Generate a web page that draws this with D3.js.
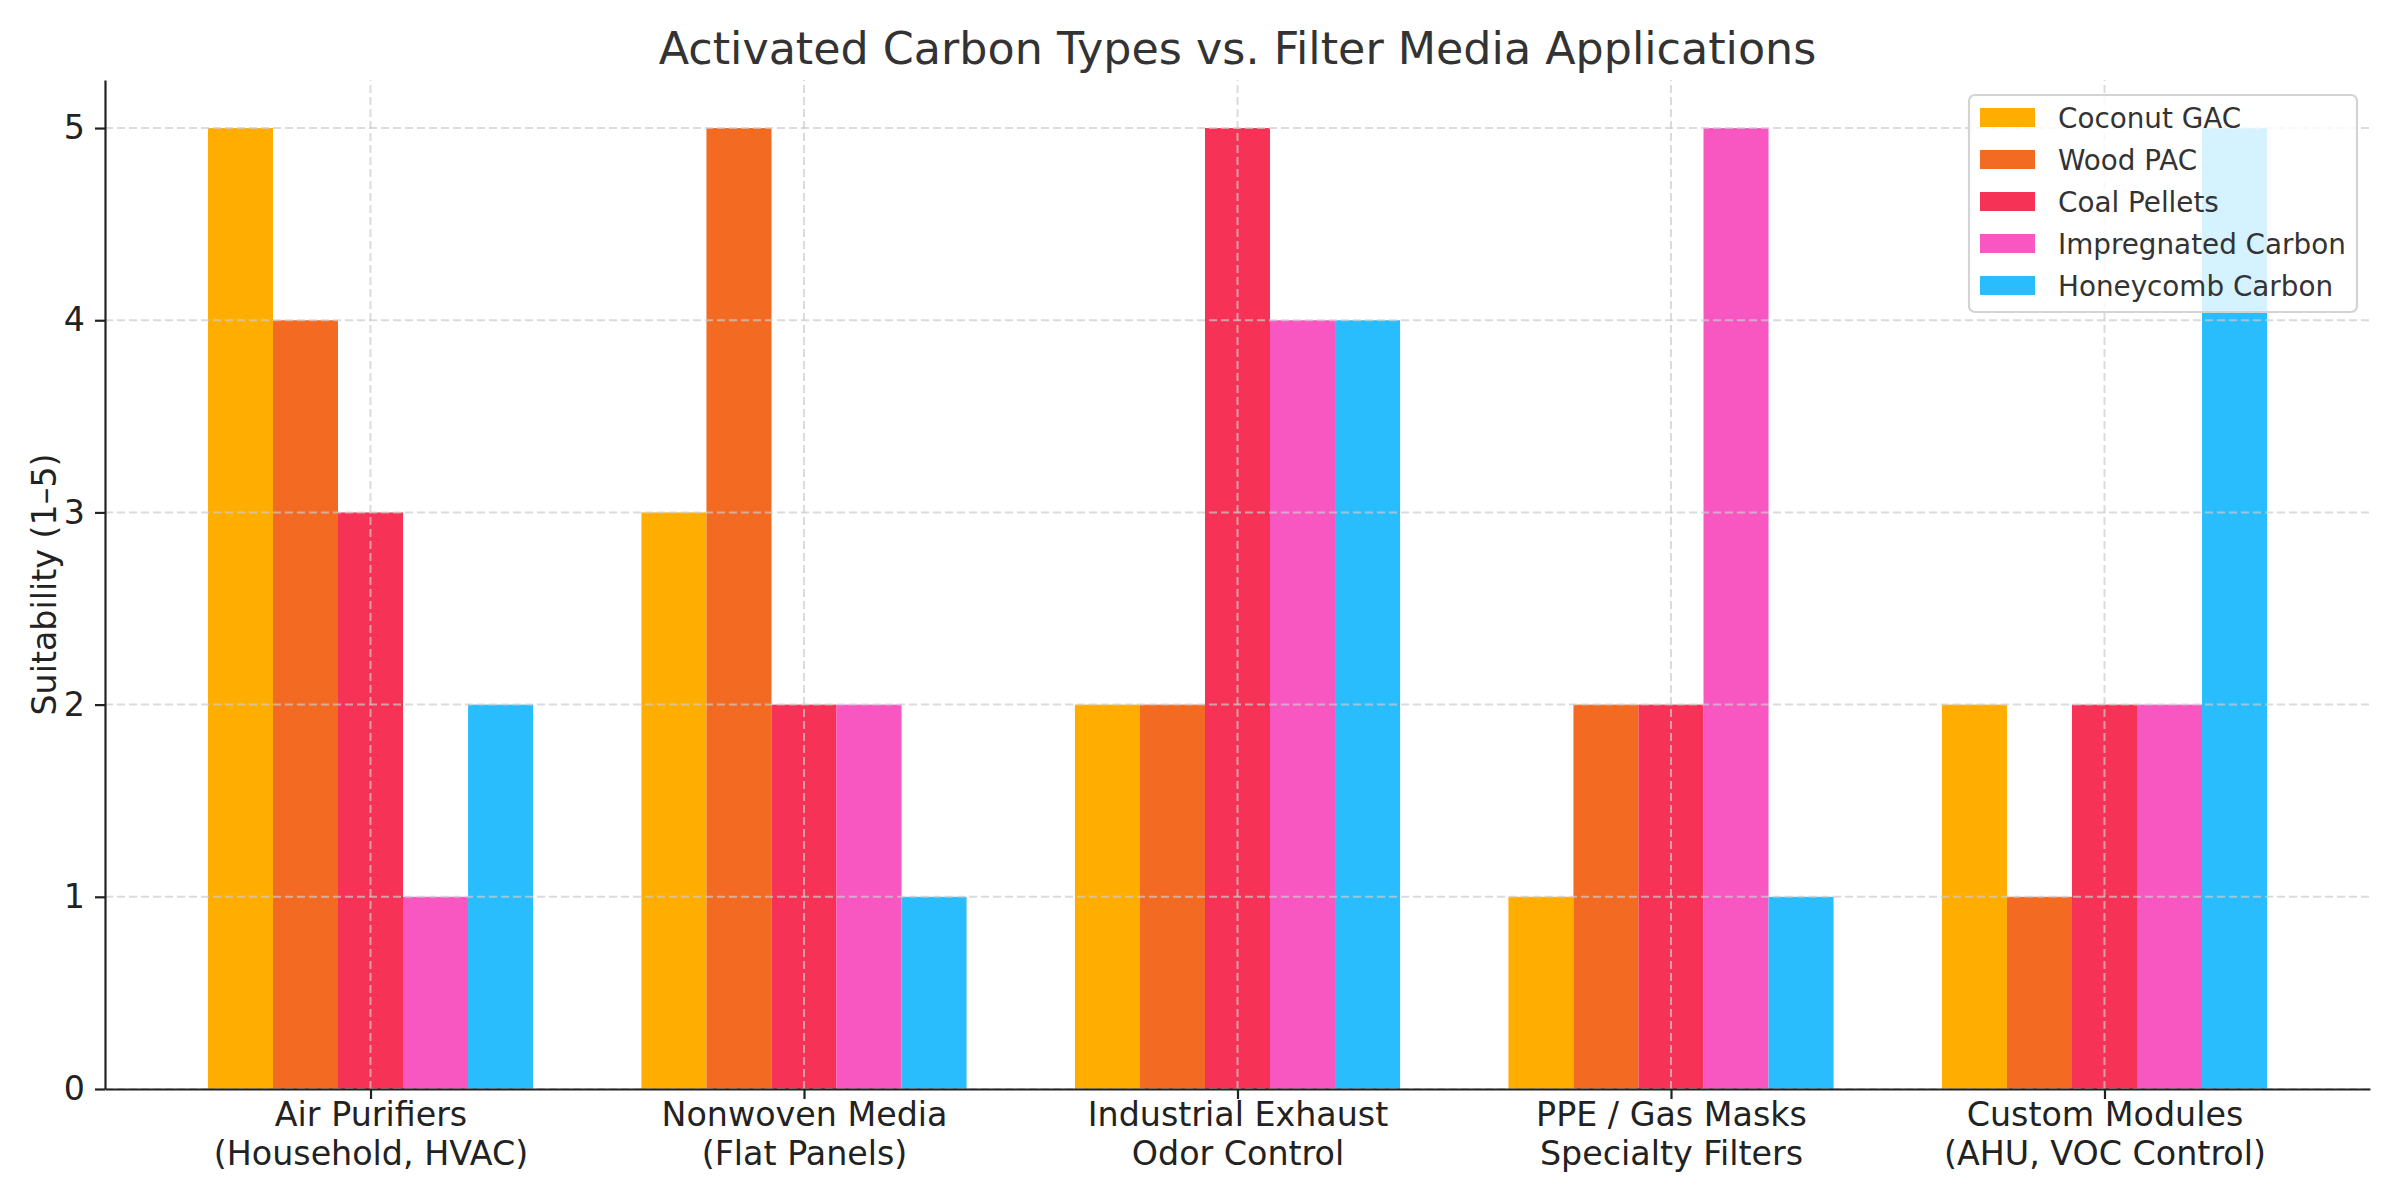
<!DOCTYPE html>
<html>
<head>
<meta charset="utf-8">
<script src="https://cdn.jsdelivr.net/npm/d3@7"></script>
<style>
  body { margin: 0; background: #fff; }
  text { font-family: "DejaVu Sans", sans-serif; }
</style>
</head>
<body>
<div id="chart"></div>
<script>
const width = 2400;
const height = 1200;

// Data
const applications = [
  ["Air Purifiers", "(Household, HVAC)"],
  ["Nonwoven Media", "(Flat Panels)"],
  ["Industrial Exhaust", "Odor Control"],
  ["PPE / Gas Masks", "Specialty Filters"],
  ["Custom Modules", "(AHU, VOC Control)"]
];
const carbonTypes = ["Coconut GAC", "Wood PAC", "Coal Pellets", "Impregnated Carbon", "Honeycomb Carbon"];
const coconutGAC = [5, 3, 2, 1, 2];
const woodPAC = [4, 5, 2, 2, 1];
const coalPellets = [3, 2, 5, 2, 2];
const impregnatedCarbon = [1, 2, 4, 5, 2];
const honeycombCarbon = [2, 1, 4, 1, 5];
const yTicks = [0, 1, 2, 3, 4, 5];

const seriesValues = [coconutGAC, woodPAC, coalPellets, impregnatedCarbon, honeycombCarbon];
const colors = ["#FFAE00", "#F36A22", "#F63356", "#F857C1", "#29BDFD"];

const margin = {left: 105, right: 30, top: 80, bottom: 111};
const barW = 0.15;

const x = d3.scaleLinear().domain([-0.6125, 4.6125]).range([margin.left, width - margin.right]);
const y = d3.scaleLinear().domain([0, 5.25]).range([height - margin.bottom, margin.top]);

const svg = d3.select("#chart").append("svg").attr("width", width).attr("height", height);

// Bars
seriesValues.forEach((vals, j) => {
  svg.append("g").selectAll("rect").data(vals).join("rect")
    .attr("x", (d, i) => x(i + (j - 2) * barW - barW / 2))
    .attr("width", x(barW) - x(0))
    .attr("y", d => y(d))
    .attr("height", d => y(0) - y(d))
    .attr("fill", colors[j]);
});

// Grid (drawn over the bars, as in the reference)
const grid = svg.append("g").attr("stroke", "#cccccc").attr("stroke-opacity", 0.7)
  .attr("stroke-width", 2).attr("stroke-dasharray", "8,4");
grid.selectAll(".hg").data(yTicks).join("line")
  .attr("x1", x.range()[0]).attr("x2", x.range()[1])
  .attr("y1", d => y(d)).attr("y2", d => y(d));
grid.selectAll(".vg").data(applications).join("line")
  .attr("x1", (d, i) => x(i)).attr("x2", (d, i) => x(i))
  .attr("y1", y.range()[0]).attr("y2", y.range()[1]);

// Axes
const xAxis = svg.append("g").attr("transform", `translate(0,${y(0)})`)
  .call(d3.axisBottom(x).tickValues(d3.range(applications.length))
    .tickSizeInner(10).tickSizeOuter(0).tickFormat(""));
const yAxis = svg.append("g").attr("transform", `translate(${x.range()[0]},0)`)
  .call(d3.axisLeft(y).tickValues(yTicks).tickSizeInner(10).tickSizeOuter(0)
    .tickPadding(10).tickFormat(d3.format("d")));

[xAxis, yAxis].forEach(a => {
  a.select(".domain").attr("stroke", "#222").attr("stroke-width", 2.2);
  a.selectAll(".tick line").attr("stroke", "#222").attr("stroke-width", 2.2);
});
yAxis.selectAll(".tick text").attr("font-size", 33.3).attr("fill", "#222")
  .attr("font-family", "DejaVu Sans");

// Two-line category labels
xAxis.selectAll(".tick text").remove();
xAxis.selectAll(".tick").append("text")
  .attr("text-anchor", "middle").attr("font-size", 33.3).attr("fill", "#222")
  .attr("font-family", "DejaVu Sans")
  .each(function (d) {
    const t = d3.select(this);
    applications[d].forEach((line, k) => {
      t.append("tspan").attr("x", 0).attr("y", 37 + k * 38.5).text(line);
    });
  });

// Y label
svg.append("text")
  .attr("transform", `translate(56,${(y.range()[0] + y.range()[1]) / 2}) rotate(-90)`)
  .attr("text-anchor", "middle").attr("font-size", 33.3).attr("fill", "#222")
  .text("Suitability (1–5)");

// Title
svg.append("text")
  .attr("x", (x.range()[0] + x.range()[1]) / 2).attr("y", 64)
  .attr("text-anchor", "middle").attr("font-size", 44.4).attr("fill", "#333")
  .text("Activated Carbon Types vs. Filter Media Applications");

// Legend
const legend = svg.append("g");
legend.append("rect")
  .attr("x", 1969).attr("y", 95).attr("width", 388).attr("height", 217)
  .attr("rx", 6).attr("fill", "#fff").attr("fill-opacity", 0.8)
  .attr("stroke", "#d3d3d3").attr("stroke-width", 2.2);
const rows = legend.selectAll(".row").data(carbonTypes).join("g")
  .attr("transform", (d, i) => `translate(0,${118 + i * 42})`);
rows.append("rect").attr("x", 1980).attr("y", -10).attr("width", 55).attr("height", 19)
  .attr("fill", (d, i) => colors[i]);
rows.append("text").attr("x", 2058).attr("y", 10).attr("font-size", 27.8).attr("fill", "#333")
  .text(d => d);
</script>
</body>
</html>
